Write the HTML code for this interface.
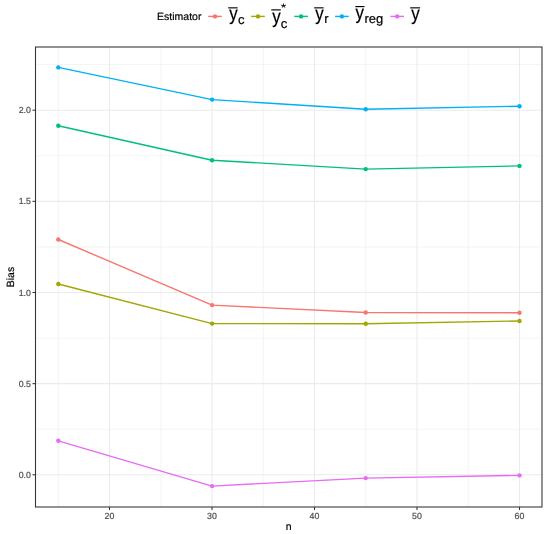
<!DOCTYPE html>
<html><head><meta charset="utf-8"><style>
html,body{margin:0;padding:0;background:#fff;width:550px;height:534px;overflow:hidden}
svg{display:block;font-family:"Liberation Sans",sans-serif;will-change:transform;text-rendering:geometricPrecision}
</style></head><body>
<svg width="550" height="534" viewBox="0 0 550 534">
<rect width="550" height="534" fill="#fff"/>
<rect x="35.5" y="47.0" width="506.5" height="460.0" fill="#fff"/>
<line x1="35.5" x2="542.0" y1="429.23" y2="429.23" stroke="#EBEBEB" stroke-width="0.54"/>
<line x1="35.5" x2="542.0" y1="338.07" y2="338.07" stroke="#EBEBEB" stroke-width="0.54"/>
<line x1="35.5" x2="542.0" y1="246.93" y2="246.93" stroke="#EBEBEB" stroke-width="0.54"/>
<line x1="35.5" x2="542.0" y1="155.77" y2="155.77" stroke="#EBEBEB" stroke-width="0.54"/>
<line x1="35.5" x2="542.0" y1="64.62" y2="64.62" stroke="#EBEBEB" stroke-width="0.54"/>
<line y1="47.0" y2="507.0" x1="58.25" x2="58.25" stroke="#EBEBEB" stroke-width="0.54"/>
<line y1="47.0" y2="507.0" x1="160.75" x2="160.75" stroke="#EBEBEB" stroke-width="0.54"/>
<line y1="47.0" y2="507.0" x1="263.25" x2="263.25" stroke="#EBEBEB" stroke-width="0.54"/>
<line y1="47.0" y2="507.0" x1="365.75" x2="365.75" stroke="#EBEBEB" stroke-width="0.54"/>
<line y1="47.0" y2="507.0" x1="468.25" x2="468.25" stroke="#EBEBEB" stroke-width="0.54"/>
<line x1="35.5" x2="542.0" y1="474.80" y2="474.80" stroke="#EBEBEB" stroke-width="1.07"/>
<line x1="35.5" x2="542.0" y1="383.65" y2="383.65" stroke="#EBEBEB" stroke-width="1.07"/>
<line x1="35.5" x2="542.0" y1="292.50" y2="292.50" stroke="#EBEBEB" stroke-width="1.07"/>
<line x1="35.5" x2="542.0" y1="201.35" y2="201.35" stroke="#EBEBEB" stroke-width="1.07"/>
<line x1="35.5" x2="542.0" y1="110.20" y2="110.20" stroke="#EBEBEB" stroke-width="1.07"/>
<line y1="47.0" y2="507.0" x1="109.50" x2="109.50" stroke="#EBEBEB" stroke-width="1.07"/>
<line y1="47.0" y2="507.0" x1="212.00" x2="212.00" stroke="#EBEBEB" stroke-width="1.07"/>
<line y1="47.0" y2="507.0" x1="314.50" x2="314.50" stroke="#EBEBEB" stroke-width="1.07"/>
<line y1="47.0" y2="507.0" x1="417.00" x2="417.00" stroke="#EBEBEB" stroke-width="1.07"/>
<line y1="47.0" y2="507.0" x1="519.50" x2="519.50" stroke="#EBEBEB" stroke-width="1.07"/>
<polyline points="58.3,239.5 212.1,305.1 365.7,312.5 519.5,312.8" fill="none" stroke="#F8766D" stroke-width="1.4" stroke-linejoin="round"/>
<polyline points="58.3,284.0 212.1,323.6 365.7,323.7 519.5,321.0" fill="none" stroke="#A3A500" stroke-width="1.4" stroke-linejoin="round"/>
<polyline points="58.3,125.7 212.1,160.2 365.7,169.1 519.5,165.9" fill="none" stroke="#00BF7D" stroke-width="1.4" stroke-linejoin="round"/>
<polyline points="58.3,67.4 212.1,99.6 365.7,109.3 519.5,106.2" fill="none" stroke="#00B0F6" stroke-width="1.4" stroke-linejoin="round"/>
<polyline points="58.3,440.8 212.1,486.1 365.7,478.1 519.5,475.4" fill="none" stroke="#E76BF3" stroke-width="1.4" stroke-linejoin="round"/>
<circle cx="58.3" cy="239.5" r="2.2" fill="#F8766D"/>
<circle cx="212.1" cy="305.1" r="2.2" fill="#F8766D"/>
<circle cx="365.7" cy="312.5" r="2.2" fill="#F8766D"/>
<circle cx="519.5" cy="312.8" r="2.2" fill="#F8766D"/>
<circle cx="58.3" cy="284.0" r="2.2" fill="#A3A500"/>
<circle cx="212.1" cy="323.6" r="2.2" fill="#A3A500"/>
<circle cx="365.7" cy="323.7" r="2.2" fill="#A3A500"/>
<circle cx="519.5" cy="321.0" r="2.2" fill="#A3A500"/>
<circle cx="58.3" cy="125.7" r="2.2" fill="#00BF7D"/>
<circle cx="212.1" cy="160.2" r="2.2" fill="#00BF7D"/>
<circle cx="365.7" cy="169.1" r="2.2" fill="#00BF7D"/>
<circle cx="519.5" cy="165.9" r="2.2" fill="#00BF7D"/>
<circle cx="58.3" cy="67.4" r="2.2" fill="#00B0F6"/>
<circle cx="212.1" cy="99.6" r="2.2" fill="#00B0F6"/>
<circle cx="365.7" cy="109.3" r="2.2" fill="#00B0F6"/>
<circle cx="519.5" cy="106.2" r="2.2" fill="#00B0F6"/>
<circle cx="58.3" cy="440.8" r="2.2" fill="#E76BF3"/>
<circle cx="212.1" cy="486.1" r="2.2" fill="#E76BF3"/>
<circle cx="365.7" cy="478.1" r="2.2" fill="#E76BF3"/>
<circle cx="519.5" cy="475.4" r="2.2" fill="#E76BF3"/>
<rect x="35.5" y="47.0" width="506.50" height="460.00" fill="none" stroke="#333333" stroke-width="1.07"/>
<line x1="32.50" x2="35.5" y1="474.80" y2="474.80" stroke="#333333" stroke-width="1.07"/>
<text x="30.9" y="477.80" text-anchor="end" font-size="8.8" fill="#4D4D4D" stroke="#4D4D4D" stroke-width="0.2">0.0</text>
<line x1="32.50" x2="35.5" y1="383.65" y2="383.65" stroke="#333333" stroke-width="1.07"/>
<text x="30.9" y="386.65" text-anchor="end" font-size="8.8" fill="#4D4D4D" stroke="#4D4D4D" stroke-width="0.2">0.5</text>
<line x1="32.50" x2="35.5" y1="292.50" y2="292.50" stroke="#333333" stroke-width="1.07"/>
<text x="30.9" y="295.50" text-anchor="end" font-size="8.8" fill="#4D4D4D" stroke="#4D4D4D" stroke-width="0.2">1.0</text>
<line x1="32.50" x2="35.5" y1="201.35" y2="201.35" stroke="#333333" stroke-width="1.07"/>
<text x="30.9" y="204.35" text-anchor="end" font-size="8.8" fill="#4D4D4D" stroke="#4D4D4D" stroke-width="0.2">1.5</text>
<line x1="32.50" x2="35.5" y1="110.20" y2="110.20" stroke="#333333" stroke-width="1.07"/>
<text x="30.9" y="113.20" text-anchor="end" font-size="8.8" fill="#4D4D4D" stroke="#4D4D4D" stroke-width="0.2">2.0</text>
<line y1="507.0" y2="510.00" x1="109.50" x2="109.50" stroke="#333333" stroke-width="1.07"/>
<text x="109.50" y="518.8" text-anchor="middle" font-size="8.8" fill="#4D4D4D" stroke="#4D4D4D" stroke-width="0.2">20</text>
<line y1="507.0" y2="510.00" x1="212.00" x2="212.00" stroke="#333333" stroke-width="1.07"/>
<text x="212.00" y="518.8" text-anchor="middle" font-size="8.8" fill="#4D4D4D" stroke="#4D4D4D" stroke-width="0.2">30</text>
<line y1="507.0" y2="510.00" x1="314.50" x2="314.50" stroke="#333333" stroke-width="1.07"/>
<text x="314.50" y="518.8" text-anchor="middle" font-size="8.8" fill="#4D4D4D" stroke="#4D4D4D" stroke-width="0.2">40</text>
<line y1="507.0" y2="510.00" x1="417.00" x2="417.00" stroke="#333333" stroke-width="1.07"/>
<text x="417.00" y="518.8" text-anchor="middle" font-size="8.8" fill="#4D4D4D" stroke="#4D4D4D" stroke-width="0.2">50</text>
<line y1="507.0" y2="510.00" x1="519.50" x2="519.50" stroke="#333333" stroke-width="1.07"/>
<text x="519.50" y="518.8" text-anchor="middle" font-size="8.8" fill="#4D4D4D" stroke="#4D4D4D" stroke-width="0.2">60</text>
<text x="288.75" y="529.6" text-anchor="middle" font-size="10.5" fill="#000" stroke="#000" stroke-width="0.2">n</text>
<text transform="translate(13.9 277.00) rotate(-90)" text-anchor="middle" font-size="10.5" fill="#000" stroke="#000" stroke-width="0.2">Bias</text>
<text x="157.1" y="19.9" font-size="10.5" fill="#000" stroke="#000" stroke-width="0.2">Estimator</text>
<line x1="208.2" x2="221.8" y1="16.4" y2="16.4" stroke="#F8766D" stroke-width="1.4"/>
<circle cx="215.0" cy="16.4" r="2.2" fill="#F8766D"/>
<line x1="251.2" x2="264.8" y1="16.4" y2="16.4" stroke="#A3A500" stroke-width="1.4"/>
<circle cx="258.0" cy="16.4" r="2.2" fill="#A3A500"/>
<line x1="294.3" x2="307.9" y1="16.4" y2="16.4" stroke="#00BF7D" stroke-width="1.4"/>
<circle cx="301.1" cy="16.4" r="2.2" fill="#00BF7D"/>
<line x1="335.1" x2="348.7" y1="16.4" y2="16.4" stroke="#00B0F6" stroke-width="1.4"/>
<circle cx="341.9" cy="16.4" r="2.2" fill="#00B0F6"/>
<line x1="390.4" x2="404.0" y1="16.4" y2="16.4" stroke="#E76BF3" stroke-width="1.4"/>
<circle cx="397.2" cy="16.4" r="2.2" fill="#E76BF3"/>
<text transform="translate(229.17 20.40) scale(0.86 1)" font-size="19.6" fill="#000" stroke="#000" stroke-width="0.2">y</text><line x1="228.2" x2="237.6" y1="7.85" y2="7.85" stroke="#000" stroke-width="1.15"/>
<text x="237.95" y="23.5" font-size="13" fill="#000" stroke="#000" stroke-width="0.2">c</text>
<text transform="translate(272.17 22.60) scale(0.86 1)" font-size="19.6" fill="#000" stroke="#000" stroke-width="0.2">y</text><line x1="271.2" x2="280.8" y1="9.9" y2="9.9" stroke="#000" stroke-width="1.15"/>
<text x="280.65" y="27.6" font-size="13" fill="#000" stroke="#000" stroke-width="0.2">c</text>
<text transform="translate(281.1 10.5) scale(1 0.8)" font-size="13" fill="#000" stroke="#000" stroke-width="0.2">*</text>
<text transform="translate(315.17 20.40) scale(0.86 1)" font-size="19.6" fill="#000" stroke="#000" stroke-width="0.2">y</text><line x1="314.2" x2="323.6" y1="7.85" y2="7.85" stroke="#000" stroke-width="1.15"/>
<text x="324.14" y="23.2" font-size="13" fill="#000" stroke="#000" stroke-width="0.2">r</text>
<text transform="translate(355.47 19.40) scale(0.86 1)" font-size="19.6" fill="#000" stroke="#000" stroke-width="0.2">y</text><line x1="355.3" x2="364.5" y1="6.6" y2="6.6" stroke="#000" stroke-width="1.15"/>
<text x="364.54" y="22.5" font-size="13" fill="#000" stroke="#000" stroke-width="0.2">reg</text>
<text transform="translate(411.17 20.40) scale(0.86 1)" font-size="19.6" fill="#000" stroke="#000" stroke-width="0.2">y</text><line x1="410.2" x2="420.1" y1="7.85" y2="7.85" stroke="#000" stroke-width="1.15"/>
</svg>
</body></html>
